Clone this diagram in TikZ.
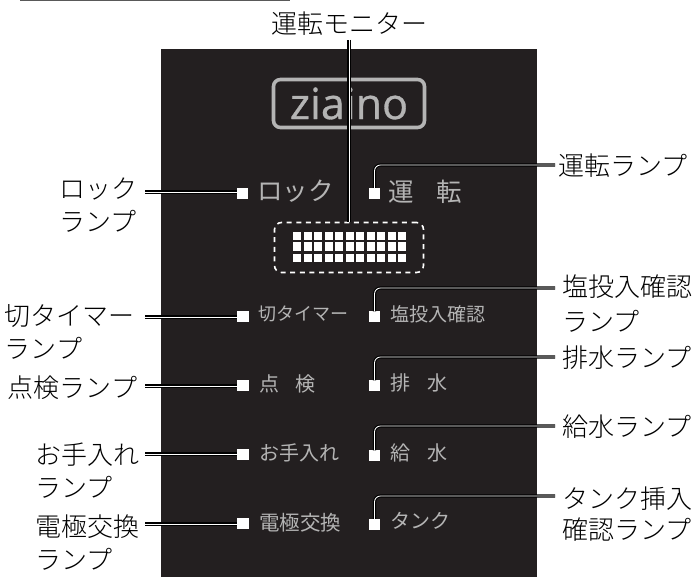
\documentclass[tikz,border=0pt]{standalone}
\usepackage{fontspec}
\setmainfont{Open Sans}
\newfontfamily\logofont[FakeBold=0.7]{Open Sans}
\newfontfamily\jp{Noto Sans CJK JP}
\newfontfamily\jpl{Noto Sans CJK JP Light}
\definecolor{panel}{HTML}{231F20}
\definecolor{soft}{HTML}{B4B4B4}
\tikzset{
 lamp/.style={fill=white,draw=none,minimum width=11.5pt,minimum height=11pt,inner sep=0pt,outer sep=0pt},
 conn/.style={draw=black,line width=1.15pt,double=white,double distance=.85pt},
 call/.style={inner sep=0pt,outer sep=0pt,text=black,align=left,font=\jpl\fontsize{26}{33}\selectfont},
 big/.style={inner sep=0pt,outer sep=0pt,anchor=west,text=soft,font=\jp\fontsize{25.5}{30}\selectfont},
 small/.style={inner sep=0pt,outer sep=0pt,anchor=west,text=soft,font=\jp\fontsize{20}{24}\selectfont}
}
\begin{document}
\begin{tikzpicture}[x=1pt,y=-1pt]
\useasboundingbox (0,0) rectangle (697,577);
\fill[black!65] (20,0) rectangle (290,1.2);
\fill[panel] (161,49) rectangle (537,577);
% logo
\node[draw=soft,line width=3.6pt,rounded corners=7pt,minimum width=151pt,minimum height=48pt,inner sep=0pt,text=soft,font=\logofont\fontsize{43}{43}\selectfont] (logo) at (349,103.5) {ziaino};
% display
\node[draw=white,line width=1.6pt,dash pattern=on 5pt off 4.6pt,rounded corners=7pt,minimum width=149pt,minimum height=50pt,inner sep=0pt] (mon) at (349,247.5) {};
\foreach \c in {0,...,10}{
 \foreach \a/\b in {232/240,242/250.7,254/262}{
  \fill[white] ({293+\c*10.5},\a) rectangle ({301.4+\c*10.5},\b);
 }
}
% lamps
\node[lamp] (lLock) at (242.5,193.5) {};
\node[lamp] (lKiri) at (243,317) {};
\node[lamp] (lTen) at (243,386) {};
\node[lamp] (lOte) at (243,455) {};
\node[lamp] (lDen) at (243,524) {};
\node[lamp] (rUn) at (374.5,193.5) {};
\node[lamp] (rEn) at (374.5,317) {};
\node[lamp] (rHai) at (374.5,386) {};
\node[lamp] (rKyu) at (374.5,456) {};
\node[lamp] (rTan) at (374.5,524.5) {};
% panel labels
\node[big] (tLock) at (257,191) {ロック};
\node[big] (tUn1) at (388,192) {運};
\node[big] (tUn2) at (436,192) {転};
\node[small,font=\jp\fontsize{18}{22}\selectfont] (tKiri) at (258,314) {切タイマー};
\node[small] (tTen1) at (259,384) {点};
\node[small] (tTen2) at (295,384) {検};
\node[small] (tOte) at (259,453) {お手入れ};
\node[small,font=\jp\fontsize{20.5}{24}\selectfont] (tDen) at (259,523) {電極交換};
\node[small,font=\jp\fontsize{19}{24}\selectfont] (tEn) at (390,314) {塩投入確認};
\node[small] (tHai1) at (390,383) {排};
\node[small] (tHai2) at (427,383) {水};
\node[small] (tKyu1) at (390,453) {給};
\node[small] (tKyu2) at (427,453) {水};
\node[small] (tTan) at (390,521) {タンク};
% callouts
\node[call,anchor=center] (cMon) at (349,24) {運転モニター};
\node[call,anchor=north west] (cLock) at (59.5,178) {ロック\\ランプ};
\node[call,anchor=north west] (cKiri) at (5,305) {切タイマー\\ランプ};
\node[call,anchor=west] (cTen) at (8,388) {点検ランプ};
\node[call,anchor=north west] (cOte) at (35,443) {お手入れ\\ランプ};
\node[call,anchor=north west] (cDen) at (35,514.5) {電極交換\\ランプ};
\node[call,anchor=west] (cUn) at (558,166) {運転ランプ};
\node[call,anchor=north west,font=\jpl\fontsize{26}{34.5}\selectfont] (cEn) at (562,275) {塩投入確認\\ランプ};
\node[call,anchor=west] (cHai) at (562,358) {排水ランプ};
\node[call,anchor=west] (cKyu) at (562,427) {給水ランプ};
\node[call,anchor=north west,font=\jpl\fontsize{26}{31}\selectfont] (cTan) at (562,487) {タンク挿入\\確認ランプ};
% free ends of the leaders
\coordinate (eLock) at (145,192);
\coordinate (eKiri) at (145,317);
\coordinate (eTen) at (145,386);
\coordinate (eOte) at (145,454);
\coordinate (eDen) at (145,524);
\coordinate (eUn) at (555,165);
\coordinate (eEn) at (555,288);
\coordinate (eHai) at (555,357);
\coordinate (eKyu) at (555,426);
\coordinate (eTan) at (555,496);
% connectors
\draw[conn] (cMon.south) ++(0,4) -- (mon.north);
\foreach \e/\n in {eLock/lLock,eKiri/lKiri,eTen/lTen,eOte/lOte,eDen/lDen}{
 \draw[conn] (\e) -- (\e -| \n.west);
}
\foreach \e/\n in {eUn/rUn,eEn/rEn,eHai/rHai,eKyu/rKyu,eTan/rTan}{
 \draw[conn,rounded corners=6pt] (\n.north) |- (\e);
}
\end{tikzpicture}
\end{document}
